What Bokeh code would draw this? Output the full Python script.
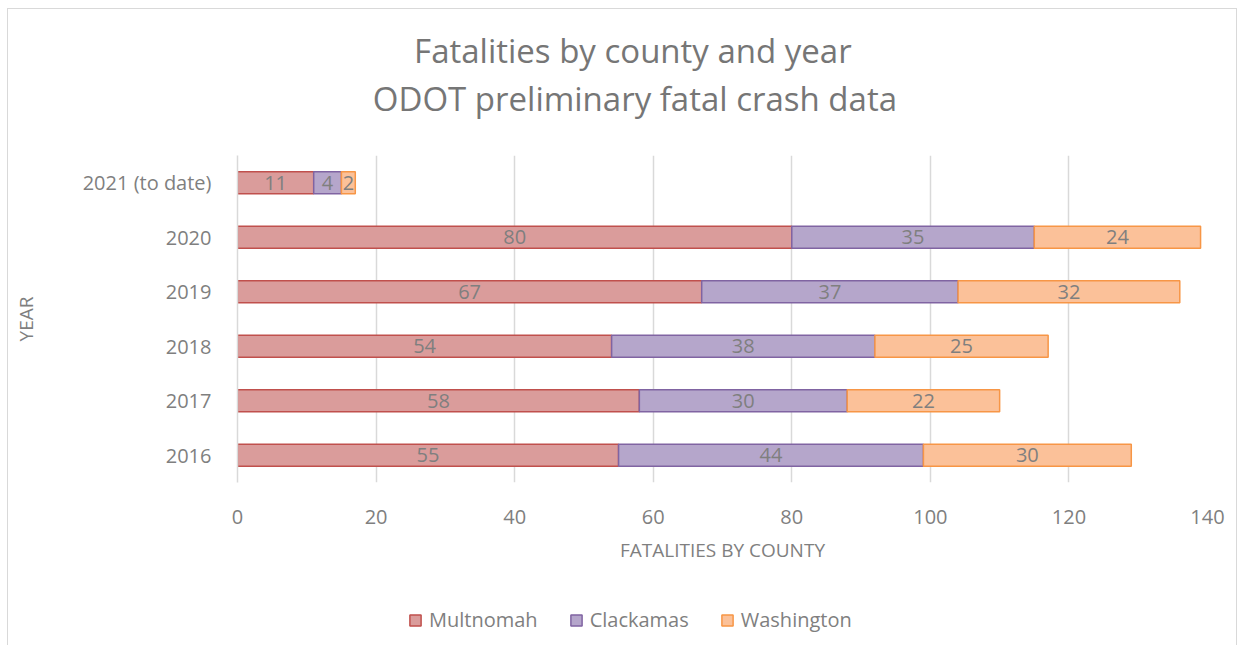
import math
from bokeh.plotting import figure
from bokeh.models import (FactorRange, Range1d, ColumnDataSource, LabelSet, Legend, LegendItem,
                          Label, FixedTicker)
from bokeh.layouts import column
from bokeh.core.properties import value
from bokeh.embed import file_html
from bokeh.resources import INLINE

title_lines = ["Fatalities by county and year", "ODOT preliminary fatal crash data"]
years = ["2016", "2017", "2018", "2019", "2020", "2021 (to date)"]
counties = ["Multnomah", "Clackamas", "Washington"]
multnomah = [55, 58, 54, 67, 80, 11]
clackamas = [44, 30, 38, 37, 35, 4]
washington = [30, 22, 25, 32, 24, 2]
x_ticks = [0, 20, 40, 60, 80, 100, 120, 140]

fills = ["#DA9C9B", "#B5A6CB", "#FBC199"]
lines = ["#C0504D", "#8064A2", "#F79646"]
FONT = "Open Sans"
GREY = "#7F7F7F"
W = 1228
# the strips above/below share the main plot's frame (page x 239..1208)
FRAME_X = (239, 1208)


def blank(height, **kw):
    f = figure(width=W, height=height, output_backend="svg", toolbar_location=None,
               x_axis_location=None, y_axis_location=None, min_border=0,
               x_range=Range1d(*FRAME_X), **kw)
    f.grid.visible = False
    f.outline_line_color = None
    return f


# ---- header with the two title lines (x in page pixels, y downward)
HH = 140
head = blank(HH, y_range=Range1d(HH, 0))
for txt, xpix, ypix in zip(title_lines, [634, 636], [41, 89]):
    head.add_layout(Label(x=xpix, y=ypix, text=txt, text_align="center",
                          text_baseline="middle", text_font=FONT, text_font_size="33px",
                          text_color="#767676"))

# ---- main chart
src = ColumnDataSource(dict(year=years, Multnomah=multnomah, Clackamas=clackamas,
                            Washington=washington))
p = figure(width=W, height=426, y_range=FactorRange(factors=years), x_range=Range1d(0, 140),
           output_backend="svg", toolbar_location=None,
           min_border_left=229, min_border_right=29, min_border_top=6, min_border_bottom=93)

renderers = p.hbar_stack(counties, y="year", height=0.4, source=src, color=fills,
                         line_color=lines, line_width=1.5)
for r, f in zip(renderers, fills):
    r.glyph.fill_color = f

lx, ly, lt = [], [], []
for i, y in enumerate(years):
    start = 0
    for vals in (multnomah, clackamas, washington):
        v = vals[i]
        lx.append(start + v / 2)
        ly.append(y)
        lt.append(str(v))
        start += v
lab_src = ColumnDataSource(dict(x=lx, y=ly, t=lt))
p.add_layout(LabelSet(x="x", y="y", text="t", source=lab_src, text_align="center",
                      text_baseline="middle", text_color=GREY, text_font=value(FONT),
                      text_font_size="20px"))

p.xaxis.ticker = FixedTicker(ticks=x_ticks)
p.xaxis.axis_line_color = None
p.xaxis.major_tick_line_color = None
p.xaxis.minor_tick_line_color = None
p.xaxis.major_label_standoff = 21
p.xaxis.major_label_text_font = FONT
p.xaxis.major_label_text_font_size = "20px"
p.xaxis.major_label_text_color = GREY
p.xaxis.axis_label = "FATALITIES BY COUNTY"
p.xaxis.axis_label_text_font = FONT
p.xaxis.axis_label_text_font_size = "19px"
p.xaxis.axis_label_text_font_style = "normal"
p.xaxis.axis_label_text_color = GREY
p.xaxis.axis_label_standoff = 10

p.yaxis.axis_line_color = "#D9D9D9"
p.yaxis.axis_line_width = 1.5
p.yaxis.major_tick_line_color = None
p.yaxis.minor_tick_line_color = None
p.yaxis.major_label_standoff = 20
p.yaxis.major_label_text_font = FONT
p.yaxis.major_label_text_font_size = "20px"
p.yaxis.major_label_text_color = GREY
p.yaxis.axis_label = "YEAR"
p.yaxis.axis_label_text_font = FONT
p.yaxis.axis_label_text_font_size = "19px"
p.yaxis.axis_label_text_font_style = "normal"
p.yaxis.axis_label_text_color = GREY
p.yaxis.axis_label_standoff = 41

p.xgrid.grid_line_color = "#D9D9D9"
p.xgrid.grid_line_width = 1.5
p.ygrid.grid_line_color = None
p.outline_line_color = None

# ---- legend strip (swatch renderers carry no points; they only supply legend glyphs)
leg = blank(70, y_range=Range1d(0, 1), min_border_top=20)
nan_src = ColumnDataSource(dict(y=[math.nan], left=[math.nan], right=[math.nan]))
leg_r = [leg.hbar(y="y", left="left", right="right", height=0.5, source=nan_src,
                  fill_color=f, line_color=l, line_width=1.5) for f, l in zip(fills, lines)]
legend = Legend(items=[LegendItem(label=c, renderers=[r]) for c, r in zip(counties, leg_r)],
                orientation="horizontal", label_text_font=FONT, label_text_font_size="20px",
                label_text_color=GREY, glyph_width=14, glyph_height=14, spacing=31,
                border_line_color=None, background_fill_alpha=0, margin=0, padding=0,
                label_standoff=7, location=(171, 12))
leg.add_layout(legend, "center")

layout = column(head, p, leg, spacing=0)
layout.styles = {"border-top": "1px solid #D9D9D9", "border-left": "1px solid #D9D9D9",
                 "border-right": "1px solid #D9D9D9", "margin-left": "7px", "margin-top": "8px"}

open("out.html", "w").write(file_html(layout, INLINE))
